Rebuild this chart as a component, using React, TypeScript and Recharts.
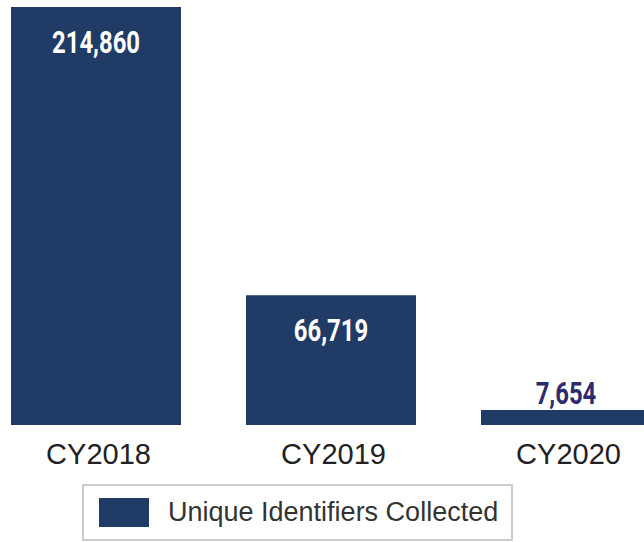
import React from "react";
import { Bar, BarChart, LabelList, Legend, XAxis, YAxis } from "recharts";

const YEARS = ["CY2018", "CY2019", "CY2020"];
const IDENTIFIERS = [214860, 66719, 7654];

const NAVY = "#1f3b66";
const LABEL_DARK = "#2d2b6b";
const TEXT = "#222222";

const data = YEARS.map((year, i) => ({ year, identifiers: IDENTIFIERS[i] }));

const fmt = (v: number) => v.toLocaleString("en-US");

// condensed look: no narrow face installed, so squeeze Roboto bold horizontally
function ValueLabel(props: any) {
  const { x, y, width, height, value } = props;
  const cx = x + width / 2;
  const small = height < 50;
  const ty = small ? y - 17 : y + 35;
  return (
    <text
      transform={`translate(${cx},${ty}) scale(0.77,1)`}
      x={0}
      y={0}
      textAnchor="middle"
      dominantBaseline="central"
      fill={small ? LABEL_DARK : "#ffffff"}
      fontFamily="Roboto, sans-serif"
      fontWeight="bold"
      fontSize={31}
    >
      {fmt(value)}
    </text>
  );
}

function YearTick(props: any) {
  const { x, y, payload } = props;
  return (
    <text
      x={x + 3}
      y={y + 31}
      textAnchor="middle"
      fill={TEXT}
      fontFamily="'Liberation Sans', Arial, sans-serif"
      fontSize={29}
    >
      {payload.value}
    </text>
  );
}

function LegendBox() {
  return (
    <div
      style={{
        boxSizing: "border-box",
        width: 431,
        height: 57,
        border: "2px solid #cccccc",
        display: "flex",
        alignItems: "center",
        fontFamily: "'Liberation Sans', Arial, sans-serif",
        fontSize: 27,
        color: "#333333",
      }}
    >
      <span style={{ display: "inline-block", width: 50, height: 29, background: NAVY, marginLeft: 15, marginRight: 19 }} />
      <span>Unique Identifiers Collected</span>
    </div>
  );
}

export default function App() {
  return (
    <div style={{ position: "absolute", left: 0, top: 0, width: 644, height: 542, overflow: "hidden", background: "#fff" }}>
      <div style={{ position: "absolute", left: -22.5, top: 0 }}>
        <BarChart width={705} height={542} data={data} margin={{ top: 7, right: 0, left: 0, bottom: 10 }}>
          <XAxis dataKey="year" axisLine={false} tickLine={false} height={50} tick={<YearTick />} interval={0} />
          <YAxis hide domain={[0, 214860]} />
          <Legend
            content={<LegendBox />}
            wrapperStyle={{ position: "absolute", left: 104.5, top: 484, width: 431, height: 57, bottom: "auto" }}
          />
          <Bar dataKey="identifiers" fill={NAVY} barSize={170} isAnimationActive={false}>
            <LabelList dataKey="identifiers" content={<ValueLabel />} />
          </Bar>
        </BarChart>
      </div>
    </div>
  );
}
